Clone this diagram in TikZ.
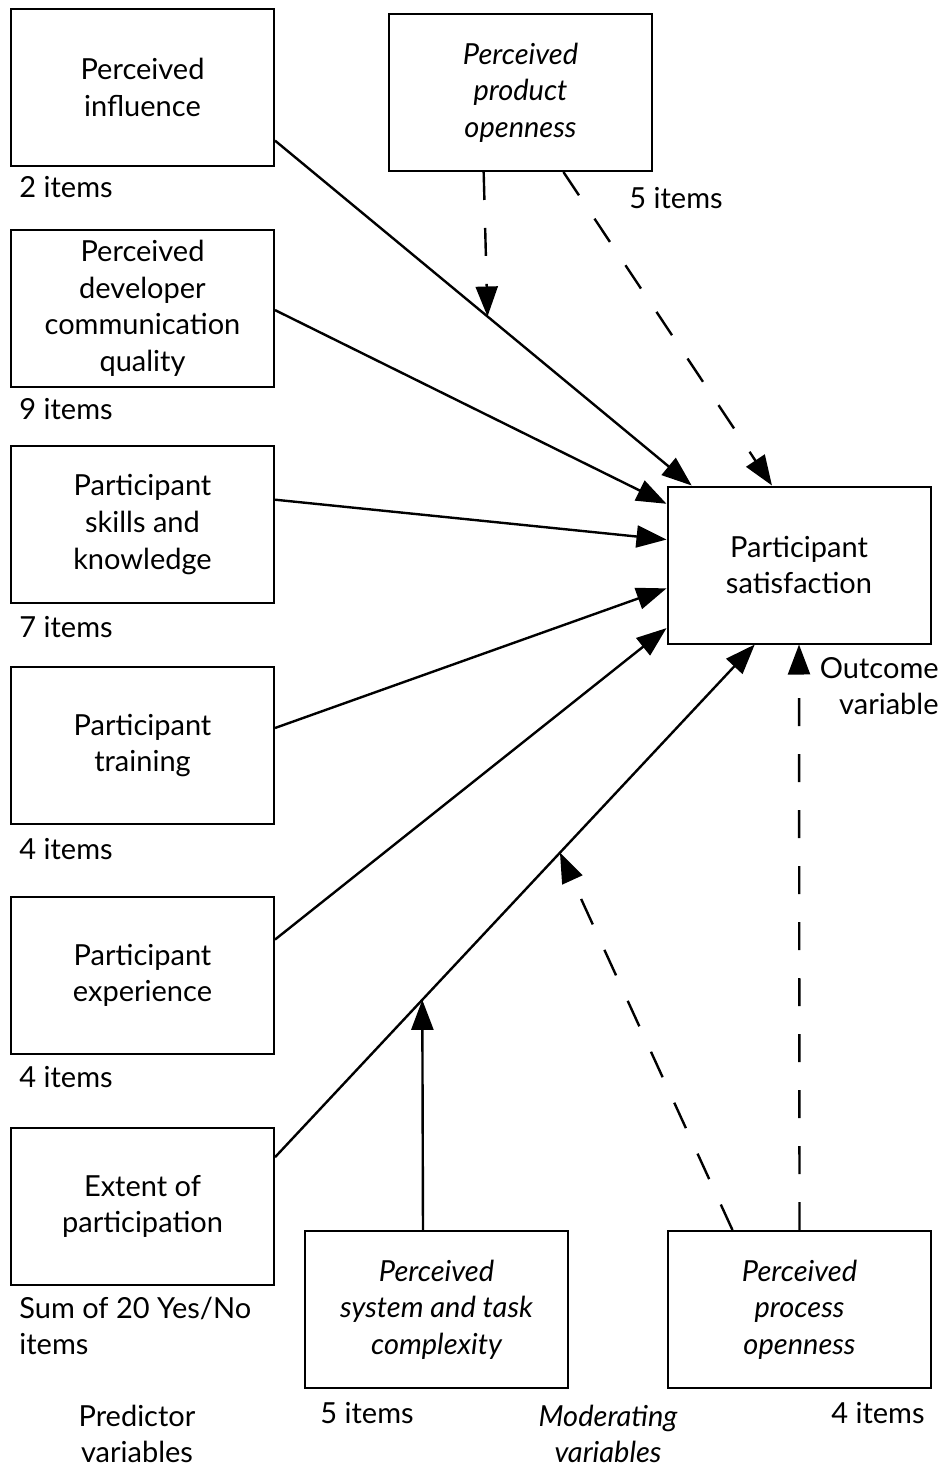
\documentclass[tikz,border=0pt]{standalone}
\usepackage{fontspec}
\setmainfont{Lato}
\usetikzlibrary{arrows.meta,calc}
\begin{document}
\begin{tikzpicture}[x=0.5pt,y=-0.5pt,
  every node/.style={font=\fontsize{14.5pt}{18.3pt}\selectfont, inner sep=0pt},
  varbox/.style={draw, line width=1pt, minimum width=131.5pt, minimum height=78.5pt, align=center,
    execute at begin node={\rule{0pt}{13.8pt}}},
  note/.style={align=left},
  link/.style={line width=1.2pt, -{Triangle[length=15pt,width=11pt]}},
  modlink/.style={link, dash pattern=on 14pt off 14pt}]
\useasboundingbox (0,0) rectangle (943,1470);

% predictor variables
\node[varbox] (inf)  at (142.5,87.5)   {Perceived\\influence};
\node[varbox] (comm) at (142.5,308.5)  {Perceived\\developer\\communication\\quality};
\node[varbox] (skl)  at (142.5,524.5)  {Participant\\skills and\\knowledge};
\node[varbox] (trn)  at (142.5,745.5)  {Participant\\training};
\node[varbox] (exp)  at (142.5,975.5)  {Participant\\experience};
\node[varbox] (ext)  at (142.5,1206.5) {Extent of\\participation};

% moderating and outcome variables
\node[varbox, font=\fontsize{14.5pt}{18.3pt}\selectfont\itshape] (prod) at (520.5,92.5) {Perceived\\product\\openness};
\node[varbox] (sat)  at (799,565) {Participant\\satisfaction};
\node[varbox, font=\fontsize{14.5pt}{18.3pt}\selectfont\itshape] (cplx) at (436.5,1309.5) {Perceived\\system and task\\complexity};
\node[varbox, font=\fontsize{14.5pt}{18.3pt}\selectfont\itshape] (proc) at (799.5,1309.5) {Perceived\\process\\openness};

% item counts and captions
\node[note, anchor=west] (n1) at (19,187)  {2 items};
\node[note, anchor=west] (n2) at (19,409)  {9 items};
\node[note, anchor=west] (n3) at (19,627)  {7 items};
\node[note, anchor=west] (n4) at (19,849)  {4 items};
\node[note, anchor=west] (n5) at (19,1077) {4 items};
\node[note, anchor=west] (n6) at (19,1326) {Sum of 20 Yes/No\\items};
\node[note, anchor=west] (n7) at (629,198) {5 items};
\node[note, anchor=west] (n8) at (320,1413) {5 items};
\node[note, anchor=east] (n9) at (925,1413) {4 items};
\node[align=right, anchor=east] (outc) at (939,686) {Outcome\\variable};
\node[align=center] (pred) at (137,1434) {Predictor\\variables};
\node[align=center, font=\fontsize{14.5pt}{18.3pt}\selectfont\itshape] (modv) at (608,1434) {Moderating\\variables};

% predictor paths into the outcome
\coordinate (infS) at ($(inf.north east)!0.834!(inf.south east)$);
\coordinate (infT) at ($(sat.north west)!0.095!(sat.north east)$);
\draw[link] (infS) -- (infT);
\draw[link] ($(comm.north east)!0.51!(comm.south east)$) -- ($(sat.north west)!0.115!(sat.south west)$);
\draw[link] ($(skl.north east)!0.344!(skl.south east)$) -- ($(sat.north west)!0.34!(sat.south west)$);
\draw[link] ($(trn.north east)!0.39!(trn.south east)$) -- ($(sat.north west)!0.647!(sat.south west)$);
\draw[link] ($(exp.north east)!0.274!(exp.south east)$) -- ($(sat.north west)!0.897!(sat.south west)$);
\coordinate (extS) at ($(ext.north east)!0.19!(ext.south east)$);
\coordinate (extT) at ($(sat.south west)!0.333!(sat.south east)$);
\draw[link] (extS) -- (extT);

% moderating paths
\coordinate (onInf) at ($(infS)!0.51!(infT)$);
\coordinate (onExtA) at ($(extS)!0.307!(extT)$);
\coordinate (onExtB) at ($(extS)!0.594!(extT)$);
\draw[modlink] ($(prod.south west)!0.361!(prod.south east)$) -- (onInf);
\draw[modlink] ($(prod.south west)!0.662!(prod.south east)$) -- ($(sat.north west)!0.398!(sat.north east)$);
\draw[link] ($(cplx.north west)!0.449!(cplx.north east)$) -- (onExtA);
\draw[modlink] ($(proc.north west)!0.247!(proc.north east)$) -- (onExtB);
\draw[modlink] (proc.north) -- (sat.south);
\end{tikzpicture}
\end{document}
